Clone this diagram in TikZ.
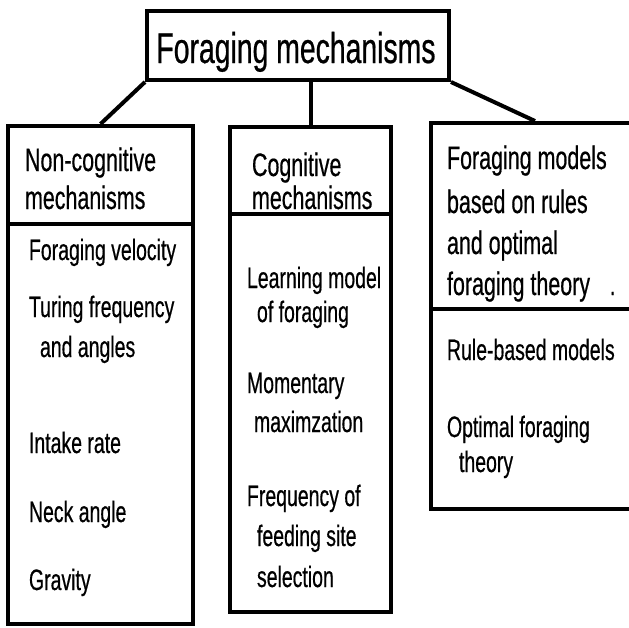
\documentclass[tikz,border=0pt]{standalone}
\usepackage{fontspec}
\setmainfont{Liberation Sans}[FakeStretch=0.66, FakeBold=0.5]

\begin{document}
\begin{tikzpicture}[x=1pt, y=-1pt, line width=4pt,
    box/.style={draw, inner sep=0pt},
    item/.style={anchor=base west, inner sep=0pt, font=\fontsize{29.5}{35}\selectfont},
    head/.style={item, font=\fontsize{32.5}{38}\selectfont}]
  \useasboundingbox (0,0) rectangle (629,627);
  % boxes
  \node[box, minimum width=302pt, minimum height=69pt] (top) at (298,45.5) {};
  \node[box, minimum width=185pt, minimum height=498pt] (lbox) at (100.5,375) {};
  \node[box, minimum width=161pt, minimum height=485pt] (mbox) at (310.5,369.5) {};
  \node[box, minimum width=208pt, minimum height=386pt] (rbox) at (535,316) {};
  \node[anchor=base, inner sep=0pt, font=\fontsize{43}{50}\selectfont] (title) at (296,63) {Foraging mechanisms};
  % links
  \draw (top.south west) -- (lbox.north);
  \draw (top.south -| mbox.north) -- (mbox.north);
  \draw (top.south east) -- (rbox.north);
  \draw (lbox.west |- 0,224) -- (lbox.east |- 0,224);
  \draw (mbox.west |- 0,214) -- (mbox.east |- 0,214);
  \draw (rbox.west |- 0,309) -- (rbox.east |- 0,309);
  % non-cognitive
  \node[head] (lh1) at (23,171) {Non-cognitive};
  \node[head] (lh2) at (23,209) {mechanisms};
  \node[item] (l1) at (27,260) {Foraging velocity};
  \node[item] (l2) at (27,317) {Turing frequency};
  \node[item] (l3) at (38,357) {and angles};
  \node[item] (l4) at (27,453) {Intake rate};
  \node[item] (l5) at (27,522) {Neck angle};
  \node[item] (l6) at (27,590) {Gravity};
  % cognitive
  \node[head] (mh1) at (250,176) {Cognitive};
  \node[head] (mh2) at (250,209) {mechanisms};
  \node[item] (m1) at (245,288) {Learning model};
  \node[item] (m2) at (255,322) {of foraging};
  \node[item] (m3) at (245,393) {Momentary};
  \node[item] (m4) at (252,432) {maximzation};
  \node[item] (m5) at (245,506) {Frequency of};
  \node[item] (m6) at (255,546) {feeding site};
  \node[item] (m7) at (255,587) {selection};
  % rules and optimal foraging
  \node[head] (rh1) at (445,169) {Foraging models};
  \node[head] (rh2) at (445,213) {based on rules};
  \node[head] (rh3) at (445,254) {and optimal};
  \node[head] (rh4) at (445,295) {foraging theory};
  \node[item] (rdot) at (608,295) {.};
  \node[item] (r1) at (445,360) {Rule-based models};
  \node[item] (r2) at (445,437) {Optimal foraging};
  \node[item] (r3) at (457,472) {theory};
\end{tikzpicture}
\end{document}
